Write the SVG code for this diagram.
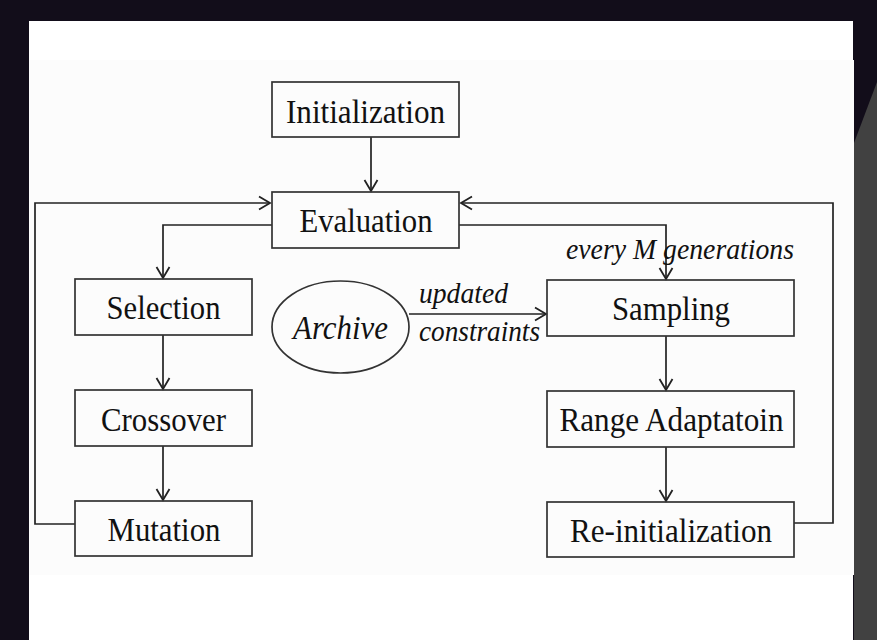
<svg xmlns="http://www.w3.org/2000/svg" width="877" height="640" viewBox="0 0 877 640">
  <style>
    .box { fill: none; stroke: #333; stroke-width: 1.7; }
    .lbl { font-family: "Liberation Serif", "Times New Roman", serif; font-size: 34px; fill: #111; text-anchor: middle; }
    .it { font-family: "Liberation Serif", "Times New Roman", serif; font-style: italic; font-size: 30px; fill: #111; }
    .big { font-size: 33px; text-anchor: middle; }
    .wire { fill: none; stroke: #222; stroke-width: 1.7; }
  </style>
  <defs>
    <marker id="arr" markerUnits="userSpaceOnUse" markerWidth="16" markerHeight="16" viewBox="-12 -8 14 16" refX="0" refY="0" orient="auto">
      <path d="M -11 -6.5 L 0 0 L -11 6.5" fill="none" stroke="#222" stroke-width="1.8"/>
    </marker>
  </defs>

  <!-- backdrop -->
  <rect x="0" y="0" width="877" height="640" fill="#120d1a"/>
  <rect x="29" y="21" width="824" height="619" fill="#ffffff"/>
  <polygon points="877,82 854,143 854,640 877,640" fill="#414141"/>
  <rect x="29" y="60" width="825" height="515" fill="#fcfcfc"/>

  <!-- connectors -->
  <g id="connectors">
    <line class="wire" x1="371" y1="137" x2="371" y2="191" marker-end="url(#arr)"/>
    <polyline class="wire" points="75,524 35,524 35,203 270,203" marker-end="url(#arr)"/>
    <polyline class="wire" points="794,523 833,523 833,203 461,203" marker-end="url(#arr)"/>
    <polyline class="wire" points="272,225 163,225 163,278" marker-end="url(#arr)"/>
    <polyline class="wire" points="459,225 666,225 666,279" marker-end="url(#arr)"/>
    <line class="wire" x1="163" y1="335" x2="163" y2="389" marker-end="url(#arr)"/>
    <line class="wire" x1="163" y1="446" x2="163" y2="500" marker-end="url(#arr)"/>
    <line class="wire" x1="666" y1="336" x2="666" y2="390" marker-end="url(#arr)"/>
    <line class="wire" x1="666" y1="447" x2="666" y2="501" marker-end="url(#arr)"/>
    <line class="wire" x1="409" y1="314" x2="546" y2="314" marker-end="url(#arr)"/>
    <text class="it" x="419" y="303" textLength="89" lengthAdjust="spacingAndGlyphs">updated</text>
    <text class="it" x="419" y="341" textLength="121" lengthAdjust="spacingAndGlyphs">constraints</text>
    <text class="it" x="566" y="259" textLength="228" lengthAdjust="spacingAndGlyphs">every M generations</text>
  </g>

  <g id="initialization">
    <rect class="box" x="272" y="82" width="187" height="55"/>
    <text class="lbl" x="365.5" y="123" textLength="159" lengthAdjust="spacingAndGlyphs">Initialization</text>
  </g>
  <g id="evaluation">
    <rect class="box" x="272" y="192" width="187" height="56"/>
    <text class="lbl" x="366" y="232" textLength="133" lengthAdjust="spacingAndGlyphs">Evaluation</text>
  </g>
  <g id="selection">
    <rect class="box" x="75" y="279" width="177" height="56"/>
    <text class="lbl" x="163.5" y="319" textLength="114" lengthAdjust="spacingAndGlyphs">Selection</text>
  </g>
  <g id="crossover">
    <rect class="box" x="75" y="390" width="177" height="56"/>
    <text class="lbl" x="163.5" y="430.5" textLength="125" lengthAdjust="spacingAndGlyphs">Crossover</text>
  </g>
  <g id="mutation">
    <rect class="box" x="75" y="501" width="177" height="55"/>
    <text class="lbl" x="164" y="540.5" textLength="113" lengthAdjust="spacingAndGlyphs">Mutation</text>
  </g>
  <g id="archive">
    <ellipse cx="340.5" cy="327" rx="68.5" ry="46" fill="none" stroke="#333" stroke-width="1.7"/>
    <text class="it big" x="340.5" y="339" textLength="95" lengthAdjust="spacingAndGlyphs">Archive</text>
  </g>
  <g id="sampling">
    <rect class="box" x="547" y="280" width="247" height="56"/>
    <text class="lbl" x="671" y="320" textLength="118" lengthAdjust="spacingAndGlyphs">Sampling</text>
  </g>
  <g id="range-adaptation">
    <rect class="box" x="547" y="391" width="247" height="56"/>
    <text class="lbl" x="671.5" y="431" textLength="224" lengthAdjust="spacingAndGlyphs">Range Adaptatoin</text>
  </g>
  <g id="re-initialization">
    <rect class="box" x="547" y="502" width="247" height="55"/>
    <text class="lbl" x="671" y="541.5" textLength="202" lengthAdjust="spacingAndGlyphs">Re-initialization</text>
  </g>
</svg>
